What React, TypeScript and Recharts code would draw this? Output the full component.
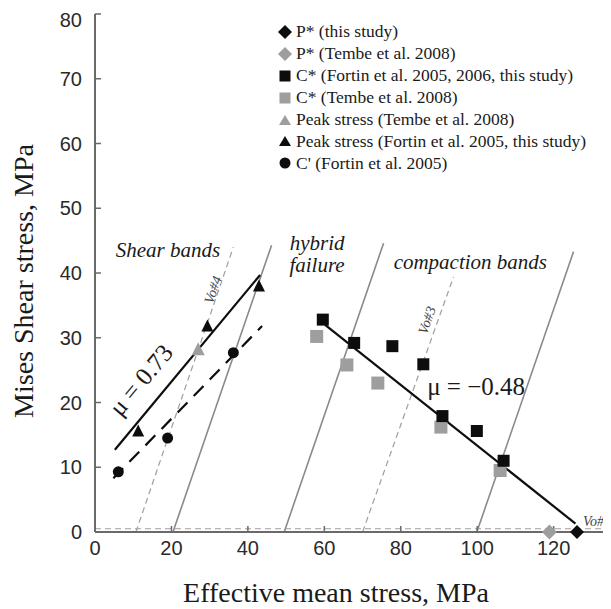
import React from 'react';
import {
  ScatterChart,
  Scatter,
  XAxis,
  YAxis,
  ReferenceLine,
  ReferenceDot,
  Legend,
} from 'recharts';

// ---------- data ----------
const pStarThis = [{ x: 126.1, y: 0 }];
const pStarTembe = [{ x: 118.9, y: 0 }];
const cStarFortin = [
  { x: 59.6, y: 32.8 },
  { x: 67.8, y: 29.2 },
  { x: 77.8, y: 28.7 },
  { x: 85.9, y: 25.9 },
  { x: 90.9, y: 17.9 },
  { x: 99.9, y: 15.6 },
  { x: 106.9, y: 11.0 },
];
const cStarTembe = [
  { x: 58.0, y: 30.2 },
  { x: 65.9, y: 25.8 },
  { x: 74.0, y: 23.0 },
  { x: 90.5, y: 16.2 },
  { x: 106.0, y: 9.5 },
];
const peakTembe = [{ x: 27.0, y: 28.1 }];
const peakFortin = [
  { x: 11.3, y: 15.5 },
  { x: 29.4, y: 31.7 },
  { x: 42.9, y: 37.9 },
];
const cPrimeFortin = [
  { x: 6.1, y: 9.3 },
  { x: 19.0, y: 14.5 },
  { x: 36.2, y: 27.7 },
];

// fit lines
const shearFit = [{ x: 5.2, y: 12.7 }, { x: 43.2, y: 39.7 }];
const cPrimeFit = [{ x: 4.8, y: 8.3 }, { x: 43.7, y: 31.8 }];
const compactFit = [{ x: 60.2, y: 32.0 }, { x: 125.7, y: 1.3 }];

// regime boundary lines (solid gray)
const boundary1 = [{ x: 20.4, y: 0 }, { x: 46.2, y: 44.3 }];
const boundary2 = [{ x: 49.5, y: 0 }, { x: 75.5, y: 44.6 }];
const boundary3 = [{ x: 99.9, y: 0 }, { x: 125.2, y: 43.3 }];

// dashed gray Vo lines
const vo4Line = [{ x: 10.7, y: 0 }, { x: 36.2, y: 44.0 }];
const vo3Line = [{ x: 70.0, y: 0 }, { x: 93.8, y: 39.4 }];
const vo5Level = 0.5;

const xTicks = [0, 20, 40, 60, 80, 100, 120];
const yTicks = [0, 10, 20, 30, 40, 50, 60, 70, 80];
const xDomain = [0, 135];
const yDomain = [0, 80];

const legendLabels = [
  'P* (this study)',
  'P* (Tembe et al. 2008)',
  'C* (Fortin et al. 2005, 2006, this study)',
  'C* (Tembe et al. 2008)',
  'Peak stress (Tembe et al. 2008)',
  'Peak stress (Fortin et al. 2005, this study)',
  "C' (Fortin et al. 2005)",
];

// annotation positions (data coords)
const annotations = [
  { x: 19.1, y: 43.6, text: 'Shear bands' },
  { x: 58.1, y: 44.6, text: 'hybrid' },
  { x: 58.1, y: 41.2, text: 'failure' },
  { x: 98.2, y: 41.7, text: 'compaction bands' },
];

// ---------- styling ----------
const BLACK = '#0d0d0d';
const GRAY = '#9e9e9e';
const LINE_GRAY = '#8a8a8a';
const AXIS = '#6a6a6a';
const SERIF = '"Liberation Serif", "Times New Roman", serif';
const SANS = '"Liberation Sans", Arial, sans-serif';

const diamond = (color: string, s: number) => (p: any) => (
  <polygon
    points={`${p.cx},${p.cy - s} ${p.cx + s},${p.cy} ${p.cx},${p.cy + s} ${p.cx - s},${p.cy}`}
    fill={color}
  />
);
const square = (color: string, s: number) => (p: any) => (
  <rect x={p.cx - s / 2} y={p.cy - s / 2} width={s} height={s} fill={color} />
);
const triangle = (color: string, s: number) => (p: any) => (
  <polygon
    points={`${p.cx},${p.cy - s * 0.6} ${p.cx + s / 2},${p.cy + s * 0.4} ${p.cx - s / 2},${p.cy + s * 0.4}`}
    fill={color}
  />
);
const circle = (color: string, r: number) => (p: any) => (
  <circle cx={p.cx} cy={p.cy} r={r} fill={color} />
);

const legendMarkers = [
  <polygon key="a" points="7,0 14,7 7,14 0,7" fill={BLACK} />,
  <polygon key="b" points="7,0 14,7 7,14 0,7" fill={GRAY} />,
  <rect key="c" x={1.5} y={1.5} width={11} height={11} fill={BLACK} />,
  <rect key="d" x={1.5} y={1.5} width={11} height={11} fill={GRAY} />,
  <polygon key="e" points="7,2 13,12 1,12" fill={GRAY} />,
  <polygon key="f" points="7,2 13,12 1,12" fill={BLACK} />,
  <circle key="g" cx={7} cy={7} r={5.5} fill={BLACK} />,
];

const LegendContent = () => (
  <div style={{ fontFamily: SERIF, fontSize: 17.5, color: '#1a1a1a' }}>
    {legendLabels.map((l, i) => (
      <div key={l} style={{ display: 'flex', alignItems: 'center', height: 21.9, whiteSpace: 'nowrap' }}>
        <svg width={14} height={14} style={{ marginRight: 4, flexShrink: 0 }}>
          {legendMarkers[i]}
        </svg>
        <span>{l}</span>
      </div>
    ))}
  </div>
);

const textLabel = (text: string, opts: any) => (props: any) => {
  const vb = props.viewBox || {};
  const x = vb.x + (vb.width || 0) / 2;
  const y = vb.y + (vb.height || 0) / 2;
  return (
    <text
      x={x}
      y={y}
      textAnchor={opts.anchor || 'middle'}
      dominantBaseline="central"
      transform={opts.rotate ? `rotate(${opts.rotate}, ${x}, ${y})` : undefined}
      style={{
        fontFamily: SERIF,
        fontSize: opts.size,
        fontStyle: opts.italic ? 'italic' : 'normal',
        fill: opts.color || '#1a1a1a',
      }}
    >
      {text}
    </text>
  );
};

export default function App() {
  return (
    <div style={{ width: 603, height: 601, position: 'relative' }}>
      <ScatterChart
        width={603}
        height={601}
        margin={{ top: 6, right: 0, bottom: 0, left: 0 }}
      >
        <XAxis
          dataKey="x"
          type="number"
          domain={xDomain}
          ticks={xTicks}
          height={77}
          tickSize={-6}
          tickMargin={15}
          axisLine={{ stroke: AXIS, strokeWidth: 2 }}
          tickLine={{ stroke: AXIS, strokeWidth: 1.5 }}
          tick={{ fontFamily: SANS, fontSize: 20, fill: '#2a2a2a' }}
          label={{
            content: () => (
              <text
                x={328}
                y={594}
                textAnchor="middle"
                style={{ fontFamily: SERIF, fontSize: 28, fill: '#1a1a1a' }}
              >
                Effective mean stress, MPa
              </text>
            ),
          }}
        />
        <XAxis
          xAxisId="top"
          orientation="top"
          type="number"
          domain={xDomain}
          ticks={xTicks}
          height={0}
          tickSize={-6}
          tick={false}
          axisLine={{ stroke: AXIS, strokeWidth: 2 }}
          tickLine={{ stroke: AXIS, strokeWidth: 1.5 }}
        />
        <YAxis
          dataKey="y"
          type="number"
          domain={yDomain}
          ticks={yTicks}
          width={87}
          tickSize={-6}
          tickMargin={19}
          axisLine={{ stroke: AXIS, strokeWidth: 2 }}
          tickLine={{ stroke: AXIS, strokeWidth: 1.5 }}
          tick={{ fontFamily: SANS, fontSize: 20, fill: '#2a2a2a' }}
          label={{
            content: () => (
              <text
                x={25}
                y={273}
                textAnchor="middle"
                transform="rotate(-90, 25, 273)"
                style={{ fontFamily: SERIF, fontSize: 28, fill: '#1a1a1a' }}
              >
                Mises Shear stress, MPa
              </text>
            ),
          }}
        />
        <YAxis
          yAxisId="right"
          orientation="right"
          type="number"
          domain={yDomain}
          ticks={yTicks}
          width={0}
          tickSize={-6}
          tick={false}
          axisLine={{ stroke: AXIS, strokeWidth: 2 }}
          tickLine={{ stroke: AXIS, strokeWidth: 1.5 }}
        />

        <ReferenceLine y={vo5Level} stroke={GRAY} strokeWidth={1.2} strokeDasharray="6 4" />
        <ReferenceLine segment={vo4Line} stroke={GRAY} strokeWidth={1.2} strokeDasharray="6 4" />
        <ReferenceLine segment={vo3Line} stroke={GRAY} strokeWidth={1.2} strokeDasharray="6 4" />
        <ReferenceLine segment={boundary1} stroke={LINE_GRAY} strokeWidth={1.6} />
        <ReferenceLine segment={boundary2} stroke={LINE_GRAY} strokeWidth={1.6} />
        <ReferenceLine segment={boundary3} stroke={LINE_GRAY} strokeWidth={1.6} />
        <ReferenceLine segment={shearFit} stroke={BLACK} strokeWidth={2.2} />
        <ReferenceLine segment={cPrimeFit} stroke={BLACK} strokeWidth={2.2} strokeDasharray="14 9" />
        <ReferenceLine segment={compactFit} stroke={BLACK} strokeWidth={2.2} />

        <Scatter data={cStarTembe} shape={square(GRAY, 13)} isAnimationActive={false} />
        <Scatter data={cStarFortin} shape={square(BLACK, 12)} isAnimationActive={false} />
        <Scatter data={peakTembe} shape={triangle(GRAY, 13)} isAnimationActive={false} />
        <Scatter data={peakFortin} shape={triangle(BLACK, 12)} isAnimationActive={false} />
        <Scatter data={cPrimeFortin} shape={circle(BLACK, 5.5)} isAnimationActive={false} />
        <Scatter data={pStarTembe} shape={diamond(GRAY, 7.5)} isAnimationActive={false} />
        <Scatter data={pStarThis} shape={diamond(BLACK, 7)} isAnimationActive={false} />

        {annotations.map((a) => (
          <ReferenceDot
            key={a.text}
            x={a.x}
            y={a.y}
            r={0}
            fill="none"
            stroke="none"
            label={{ content: textLabel(a.text, { size: 21, italic: true }) }}
          />
        ))}
        <ReferenceDot
          x={12.0}
          y={23.5}
          r={0}
          fill="none"
          stroke="none"
          label={{ content: textLabel('μ = 0.73', { size: 25, rotate: -50 }) }}
        />
        <ReferenceDot
          x={99.7}
          y={22.4}
          r={0}
          fill="none"
          stroke="none"
          label={{ content: textLabel('μ = −0.48', { size: 25 }) }}
        />
        <ReferenceDot
          x={30.9}
          y={37.4}
          r={0}
          fill="none"
          stroke="none"
          label={{ content: textLabel('Vo#4', { size: 14, italic: true, rotate: -71, color: '#444' }) }}
        />
        <ReferenceDot
          x={86.9}
          y={32.7}
          r={0}
          fill="none"
          stroke="none"
          label={{ content: textLabel('Vo#3', { size: 14, italic: true, rotate: -71, color: '#444' }) }}
        />
        <ReferenceDot
          x={127.7}
          y={1.6}
          r={0}
          fill="none"
          stroke="none"
          label={{ content: textLabel('Vo#5', { size: 14, italic: true, anchor: 'start', color: '#444' }) }}
        />

        <Legend
          layout="vertical"
          align="center"
          verticalAlign="middle"
          content={<LegendContent />}
          wrapperStyle={{ top: 13, left: 270, width: 333, height: 160 }}
        />
      </ScatterChart>
    </div>
  );
}
